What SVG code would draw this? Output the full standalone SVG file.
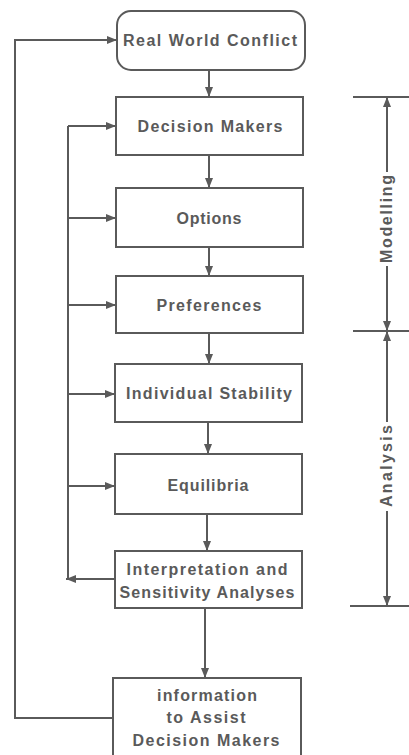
<svg xmlns="http://www.w3.org/2000/svg" width="409" height="755" viewBox="0 0 409 755">
<defs>
<marker id="ah" viewBox="0 0 10 8" refX="10" refY="4" markerWidth="10" markerHeight="8" markerUnits="userSpaceOnUse" orient="auto">
<path d="M0,0 L10,4 L0,8 Z" fill="#5a5a5a"/>
</marker>
<style>
.box{fill:#fff;stroke:#5a5a5a;stroke-width:2}
.ln{fill:none;stroke:#5a5a5a;stroke-width:2}
.t{font-family:"Liberation Sans",Arial,sans-serif;font-weight:bold;font-size:16px;fill:#5a5a5a;text-anchor:middle;dominant-baseline:central}
</style>
</defs>
<rect width="409" height="755" fill="#fff"/>
<g id="connectors">
<line class="ln" x1="209" y1="70" x2="209" y2="97" marker-end="url(#ah)"/>
<line class="ln" x1="209" y1="155" x2="209" y2="188" marker-end="url(#ah)"/>
<line class="ln" x1="209" y1="247" x2="209" y2="276" marker-end="url(#ah)"/>
<line class="ln" x1="209" y1="333" x2="209" y2="364" marker-end="url(#ah)"/>
<line class="ln" x1="208" y1="422" x2="208" y2="454" marker-end="url(#ah)"/>
<line class="ln" x1="207" y1="514" x2="207" y2="551" marker-end="url(#ah)"/>
<line class="ln" x1="205" y1="608" x2="205" y2="678" marker-end="url(#ah)"/>
<polyline class="ln" points="113,718 15,718 15,40 117,40" marker-end="url(#ah)"/>
<polyline class="ln" points="115,579 68,579 68,126" />
<line class="ln" x1="115" y1="579" x2="66" y2="579" marker-end="url(#ah)"/>
<line class="ln" x1="68" y1="126" x2="116" y2="126" marker-end="url(#ah)"/>
<line class="ln" x1="68" y1="218" x2="116" y2="218" marker-end="url(#ah)"/>
<line class="ln" x1="68" y1="305" x2="116" y2="305" marker-end="url(#ah)"/>
<line class="ln" x1="68" y1="394" x2="115" y2="394" marker-end="url(#ah)"/>
<line class="ln" x1="68" y1="486" x2="115" y2="486" marker-end="url(#ah)"/>
</g>
<g id="n1"><rect class="box" x="117" y="11" width="188" height="59" rx="14"/><text class="t" x="210" y="40" textLength="174" lengthAdjust="spacing">Real World Conflict</text></g>
<g id="n2"><rect class="box" x="116" y="97" width="187" height="58"/><text class="t" x="210" y="126" textLength="145" lengthAdjust="spacing">Decision Makers</text></g>
<g id="n3"><rect class="box" x="116" y="188" width="187" height="59"/><text class="t" x="209" y="218" textLength="65" lengthAdjust="spacing">Options</text></g>
<g id="n4"><rect class="box" x="116" y="276" width="187" height="57"/><text class="t" x="209" y="305" textLength="105" lengthAdjust="spacing">Preferences</text></g>
<g id="n5"><rect class="box" x="115" y="364" width="187" height="58"/><text class="t" x="209" y="393" textLength="166" lengthAdjust="spacing">Individual Stability</text></g>
<g id="n6"><rect class="box" x="115" y="454" width="187" height="60"/><text class="t" x="208" y="485" textLength="81" lengthAdjust="spacing">Equilibria</text></g>
<g id="n7"><rect class="box" x="115" y="551" width="187" height="57"/><text class="t" x="207" y="569" textLength="161" lengthAdjust="spacing">Interpretation and</text><text class="t" x="207" y="592" textLength="175" lengthAdjust="spacing">Sensitivity Analyses</text></g>
<g id="n8"><rect class="box" x="113" y="678" width="188" height="80"/><text class="t" x="207" y="695" textLength="100" lengthAdjust="spacing">information</text><text class="t" x="206" y="717" textLength="79" lengthAdjust="spacing">to Assist</text><text class="t" x="206" y="740" textLength="147" lengthAdjust="spacing">Decision Makers</text></g>
<g id="dimension">
<line class="ln" x1="353" y1="97" x2="409" y2="97"/>
<line class="ln" x1="353" y1="331" x2="409" y2="331"/>
<line class="ln" x1="350" y1="606" x2="409" y2="606"/>
<line class="ln" x1="387" y1="172" x2="387" y2="97" marker-end="url(#ah)"/>
<line class="ln" x1="387" y1="266" x2="387" y2="331" marker-end="url(#ah)"/>
<line class="ln" x1="387" y1="422" x2="387" y2="331" marker-end="url(#ah)"/>
<line class="ln" x1="387" y1="511" x2="387" y2="606" marker-end="url(#ah)"/>
<text class="t" transform="translate(386,219) rotate(-90)" textLength="88" lengthAdjust="spacing">Modelling</text>
<text class="t" transform="translate(386,466) rotate(-90)" textLength="82" lengthAdjust="spacing">Analysis</text>
</g>
</svg>
